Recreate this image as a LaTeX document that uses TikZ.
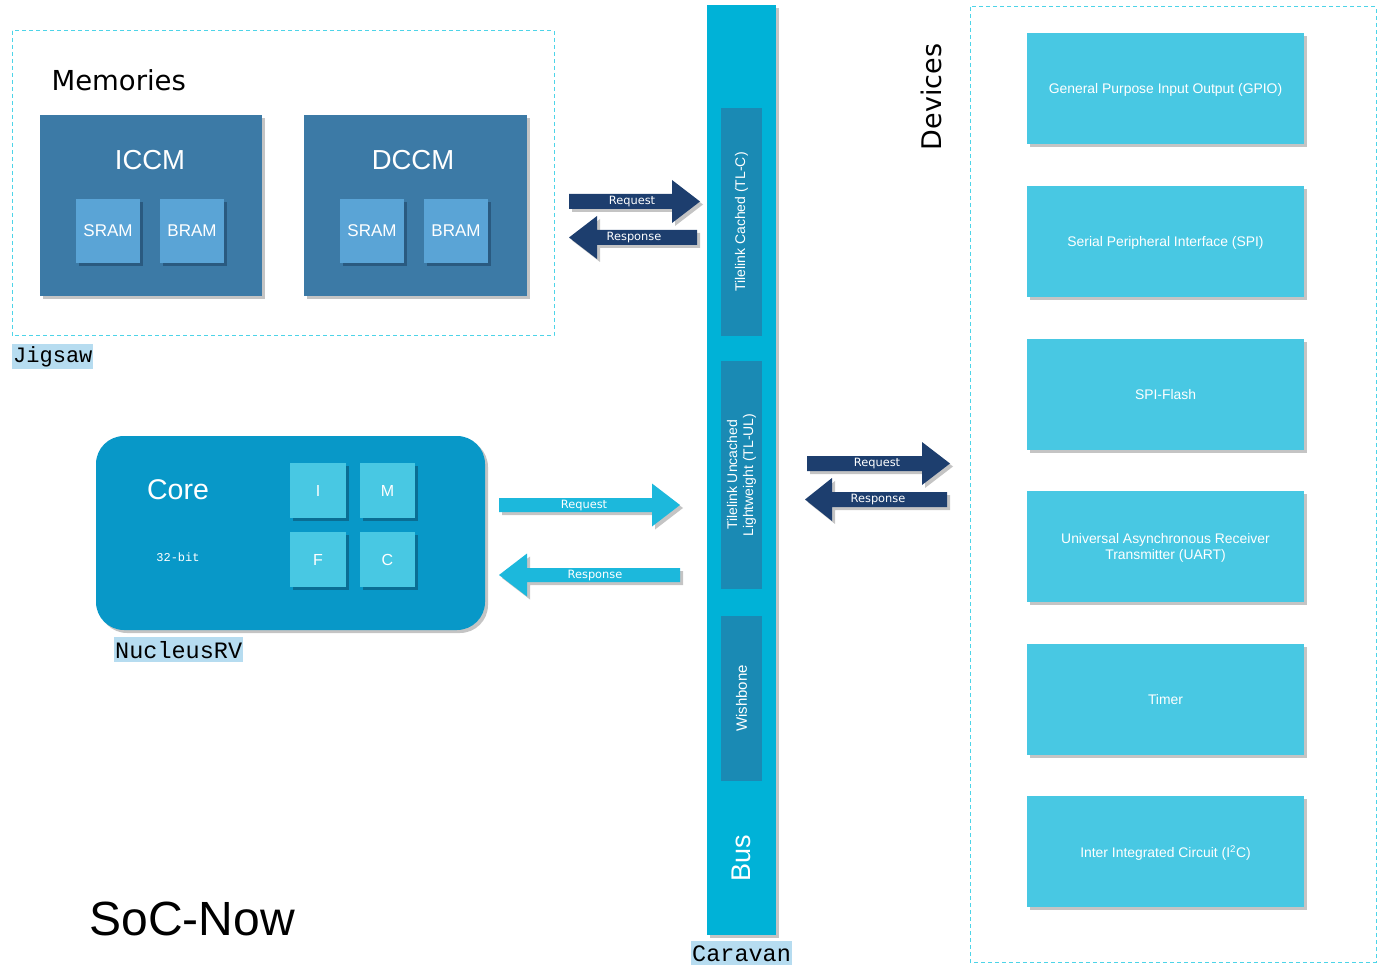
\documentclass[tikz,border=0pt]{standalone}
\usepackage{fontspec}
\setmainfont{Liberation Sans}
\newfontfamily\dejavu{DejaVu Sans}
\setmonofont{Liberation Mono}
\usetikzlibrary{shadows,calc}

\definecolor{memblue}{HTML}{3C7AA6}
\definecolor{ramblue}{HTML}{5AA4D6}
\definecolor{ramshadow}{HTML}{2A5A80}
\definecolor{busblue}{HTML}{00B2D7}
\definecolor{busband}{HTML}{1A8AB4}
\definecolor{coreblue}{HTML}{0898C8}
\definecolor{unitcyan}{HTML}{48C8E3}
\definecolor{unitshadow}{HTML}{0A6E94}
\definecolor{devcyan}{HTML}{48C8E3}
\definecolor{dashcyan}{HTML}{4DD4E8}
\definecolor{tagblue}{HTML}{B6DCF0}
\definecolor{navy}{HTML}{1D3E6E}
\definecolor{arrowcyan}{HTML}{1CB8DC}
\definecolor{shadowgray}{HTML}{C4C4C4}

\newcommand{\fs}[1]{\fontsize{#1}{#1}\selectfont}

% block arrows: \rightblock{x0}{xh}{tip}{yc}{half shaft}{half head}{colour}
\newcommand{\rightblock}[7]{%
  \fill[shadowgray] ($(#1,#4-#5)+(3,3)$) -- ($(#2,#4-#5)+(3,3)$) -- ($(#2,#4-#6)+(3,3)$) -- ($(#3,#4)+(3,3)$)
     -- ($(#2,#4+#6)+(3,3)$) -- ($(#2,#4+#5)+(3,3)$) -- ($(#1,#4+#5)+(3,3)$) -- cycle;
  \fill[#7] (#1,#4-#5) -- (#2,#4-#5) -- (#2,#4-#6) -- (#3,#4) -- (#2,#4+#6) -- (#2,#4+#5) -- (#1,#4+#5) -- cycle;}
% \leftblock{tip}{xh}{x1}{yc}{half shaft}{half head}{colour}
\newcommand{\leftblock}[7]{%
  \fill[shadowgray] ($(#1,#4)+(3,3)$) -- ($(#2,#4-#6)+(3,3)$) -- ($(#2,#4-#5)+(3,3)$) -- ($(#3,#4-#5)+(3,3)$)
     -- ($(#3,#4+#5)+(3,3)$) -- ($(#2,#4+#5)+(3,3)$) -- ($(#2,#4+#6)+(3,3)$) -- cycle;
  \fill[#7] (#1,#4) -- (#2,#4-#6) -- (#2,#4-#5) -- (#3,#4-#5) -- (#3,#4+#5) -- (#2,#4+#5) -- (#2,#4+#6) -- cycle;}

\begin{document}
\begin{tikzpicture}[x=1pt,y=-1pt,
  box/.style={anchor=north west,inner sep=0pt,outer sep=0pt},
  gshadow/.style={drop shadow={shadow xshift=3pt,shadow yshift=-3pt,fill=shadowgray,opacity=1}},
  memblock/.style={box,fill=memblue,gshadow},
  ramblock/.style={box,fill=ramblue,minimum width=64pt,minimum height=64pt,
    drop shadow={shadow xshift=3pt,shadow yshift=-3pt,fill=ramshadow,opacity=1},
    text=white,font=\fs{17}},
  unit/.style={box,fill=unitcyan,minimum width=56pt,minimum height=55pt,
    drop shadow={shadow xshift=3pt,shadow yshift=-3pt,fill=unitshadow,opacity=1},
    text=white,font=\fs{16}},
  device/.style={box,fill=devcyan,minimum width=277pt,minimum height=111pt,gshadow,
    text=white,font=\fs{13.9},align=center,text depth=0pt},
  band/.style={box,fill=busband,minimum width=41pt},
  bandlabel/.style={rotate=90,text=white,font=\fs{14},align=center},
  group/.style={draw=dashcyan,line width=1pt,dash pattern=on 4pt off 3pt},
  tag/.style={anchor=north west,fill=tagblue,inner sep=1pt,minimum height=25pt,font=\ttfamily\fs{23.5}},
  arrowlabel/.style={text=white,font=\dejavu\fs{11.4},inner sep=0pt},
]
\useasboundingbox (0,0) rectangle (1378,965);

% ---------- Jigsaw: memories ----------
\draw[group] (12,31) rectangle (554,336);
\node[tag,font=\ttfamily\fs{22}] (jigsaw) at (12,344) {Jigsaw};
\node[anchor=west,font=\dejavu\fs{27.5}] (memories) at (48,80) {Memories};

\node[memblock,minimum width=222pt,minimum height=181pt] (iccm) at (40,115) {};
\node[text=white,font=\fs{27.5}] (iccmlbl) at (150,160) {ICCM};
\node[ramblock] (isram) at (76,199) {SRAM};
\node[ramblock] (ibram) at (160,199) {BRAM};

\node[memblock,minimum width=223pt,minimum height=181pt] (dccm) at (304,115) {};
\node[text=white,font=\fs{27.5}] (dccmlbl) at (413,160) {DCCM};
\node[ramblock] (dsram) at (340,199) {SRAM};
\node[ramblock] (dbram) at (424,199) {BRAM};

% memory <-> bus arrows
\rightblock{569}{672}{700}{201.5}{7.5}{21.5}{navy}
\node[arrowlabel] (mreq) at (632,202) {Request};
\leftblock{569}{597}{697}{237.5}{7.5}{21.5}{navy}
\node[arrowlabel] (mresp) at (634,238) {Response};

% ---------- NucleusRV: core ----------
\node[box,fill=coreblue,minimum width=389pt,minimum height=194pt,rounded corners=28pt,gshadow] (core) at (96,436) {};
\node[text=white,font=\fs{28.5}] (corelbl) at (178,490) {Core};
\node[text=white,font=\ttfamily\fs{12}] (bits) at (178,557) {32-bit};
\node[unit] (ui) at (290,463) {I};
\node[unit,minimum width=55pt] (um) at (360,463) {M};
\node[unit] (uf) at (290,532) {F};
\node[unit,minimum width=55pt] (uc) at (360,532) {C};
\node[tag] (nucleus) at (114,637) {NucleusRV};

% core <-> bus arrows
\rightblock{499}{652}{680}{505}{7}{21.5}{arrowcyan}
\node[arrowlabel] (creq) at (584,505.5) {Request};
\leftblock{499}{527}{680}{575}{7}{21.5}{arrowcyan}
\node[arrowlabel] (cresp) at (595,575.5) {Response};

% ---------- Caravan: bus ----------
\node[box,fill=busblue,minimum width=69pt,minimum height=930pt,gshadow] (bus) at (707,5) {};
\node[band,minimum height=228pt] (tlc) at (721,108) {};
\node[bandlabel] at (tlc.center) {Tilelink Cached (TL-C)};
\node[band,minimum height=228pt] (tlul) at (721,361) {};
\node[bandlabel] at (tlul.center) {Tilelink Uncached\\[2pt]Lightweight (TL-UL)};
\node[band,minimum height=165pt] (wb) at (721,616) {};
\node[bandlabel,font=\fs{15}] at (wb.center) {Wishbone};
\node[rotate=90,text=white,font=\fs{27}] (buslbl) at (741,858) {Bus};
\node[tag] (caravan) at (691,941) {Caravan};

% bus <-> devices arrows
\rightblock{807}{922}{950}{463.5}{7.5}{21.5}{navy}
\node[arrowlabel] (dreq) at (877,464) {Request};
\leftblock{805}{832}{947}{499.5}{7.5}{21.5}{navy}
\node[arrowlabel] (dresp) at (878,500) {Response};

% ---------- devices ----------
\draw[group] (970,7) rectangle (1376,962);
\node[rotate=90,font=\dejavu\fs{27}] (devices) at (931,97) {Devices};
\node[device] (gpio)  at (1027,33)  {General Purpose Input Output (GPIO)};
\node[device] (spi)   at (1027,186) {Serial Peripheral Interface (SPI)};
\node[device] (flash) at (1027,339) {SPI-Flash};
\node[device] (uart)  at (1027,491) {Universal Asynchronous Receiver\\[3pt]Transmitter (UART)};
\node[device] (timer) at (1027,644) {Timer};
\node[device] (iic)   at (1027,796) {Inter Integrated Circuit (I\textsuperscript{2}C)};

% ---------- title ----------
\node[anchor=west,font=\fs{48}] (title) at (86,919) {SoC-Now};
\end{tikzpicture}
\end{document}
